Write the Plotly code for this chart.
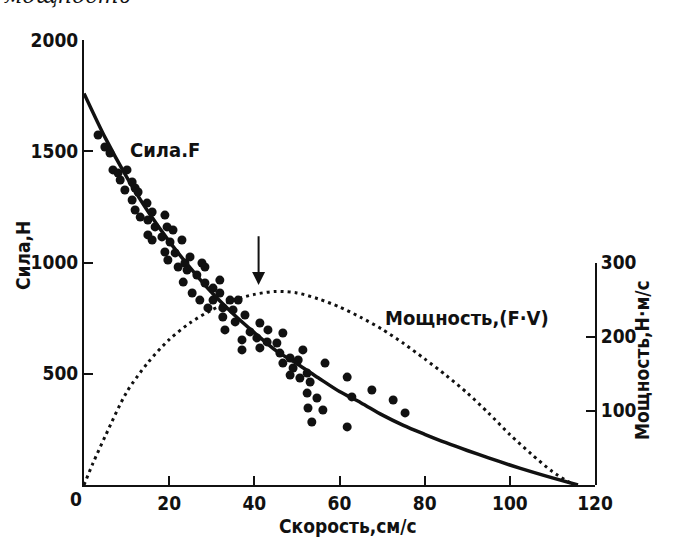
import plotly.graph_objects as go

# Measured force at each contraction speed (cm/s, N)
speed_obs = [3.3, 4.9, 6.1, 6.8, 8.0, 10.1, 8.5, 11.3, 9.6, 12.0, 12.7, 11.3, 14.8, 12.0,
             16.0, 13.2, 19.0, 15.0, 16.7, 19.5, 15.0, 20.9, 18.3, 16.0, 20.2, 23.0, 19.0,
             21.4, 24.9, 19.7, 23.7, 27.7, 22.1, 24.2, 28.4, 26.5, 31.9, 23.3, 28.4, 30.3,
             25.4, 31.9, 27.2, 30.3, 34.3, 36.2, 29.1, 32.6, 35.0, 32.6, 37.8, 35.5, 41.3,
             33.1, 39.0, 43.2, 46.7, 37.1, 40.6, 43.0, 45.3, 37.1, 41.3, 46.0, 51.4, 48.4,
             50.3, 46.7, 49.1, 48.4, 52.4, 50.7, 53.1, 52.4, 54.7, 52.6, 53.5, 56.6, 61.8,
             56.1, 67.6, 62.9, 72.6, 75.4, 61.8]
force_obs = [1573, 1519, 1492, 1416, 1402, 1416, 1371, 1362, 1326, 1335, 1317, 1281, 1267, 1236,
             1227, 1204, 1213, 1191, 1160, 1160, 1124, 1146, 1115, 1101, 1092, 1101, 1047,
             1043, 1025, 1011, 998, 998, 980, 966, 980, 944, 921, 912, 908, 885,
             863, 863, 831, 831, 831, 831, 796, 796, 787, 755, 764, 733, 728,
             697, 688, 697, 683, 652, 661, 643, 638, 607, 616, 593, 607, 571,
             562, 548, 526, 494, 503, 481, 463, 413, 391, 346, 283, 548, 485,
             337, 427, 396, 382, 324, 261]

# Fitted force-velocity curve
curve_speed = [0, 5, 10, 15, 20, 25, 30, 35, 40, 45, 50, 55, 60, 65, 70, 75, 80, 85,
               90, 95, 100, 105, 110, 116]
curve_force = [1760, 1560, 1385, 1230, 1095, 975, 865, 770, 685, 605, 545, 482, 420, 370,
               315, 268, 228, 190, 155, 122, 90, 60, 32, 0]

# Power output (F·V), N·m/s
power_speed = [0, 2, 5, 10, 15, 20, 25, 30, 35, 40, 45, 50, 55, 60, 65, 70, 75, 80,
               85, 90, 95, 100, 105, 110, 115]
power_val = [0, 28, 66, 125, 165, 196, 219, 236, 249, 257, 261, 259, 251, 240, 226, 210,
             191, 170, 148, 124, 97, 68, 42, 18, 0]

# Speed of maximum power
peak_speed = 41

x_ticks = [20, 40, 60, 80, 100, 120]
force_ticks = [500, 1000, 1500, 2000]
power_ticks = [100, 200, 300]

FONT = "DejaVu Sans Condensed, Liberation Sans Narrow, Arial Narrow, sans-serif"
INK = "#111111"
CLEAR = "rgba(0,0,0,0)"

fig = go.Figure()

fig.add_trace(go.Scatter(
    x=speed_obs, y=force_obs, mode="markers",
    marker=dict(size=9, color=INK, line=dict(width=0)),
    xaxis="x", yaxis="y", cliponaxis=False, showlegend=False,
))
fig.add_trace(go.Scatter(
    x=curve_speed, y=curve_force, mode="lines",
    line=dict(color=INK, width=3.5, shape="spline", smoothing=0.8),
    xaxis="x", yaxis="y", showlegend=False,
))
fig.add_trace(go.Scatter(
    x=power_speed, y=power_val, mode="lines",
    line=dict(color=INK, width=3, dash="3px,4px", shape="spline", smoothing=0.8),
    xaxis="x", yaxis="y2", showlegend=False,
))

tick_font = dict(family=FONT, size=19, color=INK, weight="bold")
axis_common = dict(
    showgrid=False, zeroline=False, showline=True, linecolor=INK, linewidth=2,
    ticks="inside", ticklen=9, tickwidth=2, tickcolor=INK, tickfont=tick_font,
)

fig.update_layout(
    width=685, height=538,
    margin=dict(l=84, r=90, t=40, b=53),
    paper_bgcolor="white", plot_bgcolor=CLEAR,
    xaxis=dict(range=[0, 120], tickvals=x_ticks, **axis_common),
    yaxis=dict(range=[0, 2000], tickvals=force_ticks, **axis_common),
    yaxis2=dict(range=[0, 300], tickvals=power_ticks, domain=[0, 0.5],
                anchor="x", side="right", **axis_common),
    font=dict(family=FONT, color=INK),
)

label_font = dict(family=FONT, size=20, color=INK, weight="bold")
title_font = dict(family=FONT, size=19, color=INK, weight="bold")
centered = dict(showarrow=False, xanchor="center", yanchor="middle")

fig.add_annotation(x=19.0, y=1506, xref="x", yref="y", text="Сила.F",
                   font=label_font, **centered)
fig.add_annotation(x=90.0, y=751, xref="x", yref="y", text="Мощность,(F·V)",
                   font=label_font, **centered)

# Arrow marking the speed of maximum power
fig.add_annotation(x=peak_speed, y=899, xref="x", yref="y",
                   ax=peak_speed, ay=1125, axref="x", ayref="y",
                   text="", showarrow=True, arrowhead=2, arrowsize=1.3,
                   arrowwidth=2, arrowcolor=INK)

# Axis titles and corner zero
fig.add_annotation(x=-0.119, y=0.515, xref="paper", yref="paper", text="Сила,Н",
                   textangle=-90, font=title_font, **centered)
fig.add_annotation(x=1.092, y=0.281, xref="paper", yref="paper", text="Мощность,Н·м/с",
                   textangle=-90, font=title_font, **centered)
fig.add_annotation(x=0.517, y=-0.092, xref="paper", yref="paper", text="Скорость,см/с",
                   font=title_font, **centered)
fig.add_annotation(x=-0.0157, y=-0.0315, xref="paper", yref="paper", text="0",
                   font=tick_font, **centered)

# Running text from the page above the figure
fig.add_annotation(x=-0.033, y=1.099, xref="paper", yref="paper", text="<i>мощность</i>",
                   font=dict(family="DejaVu Serif, serif", size=22, color=INK), **centered)

fig.write_html("out.html")
